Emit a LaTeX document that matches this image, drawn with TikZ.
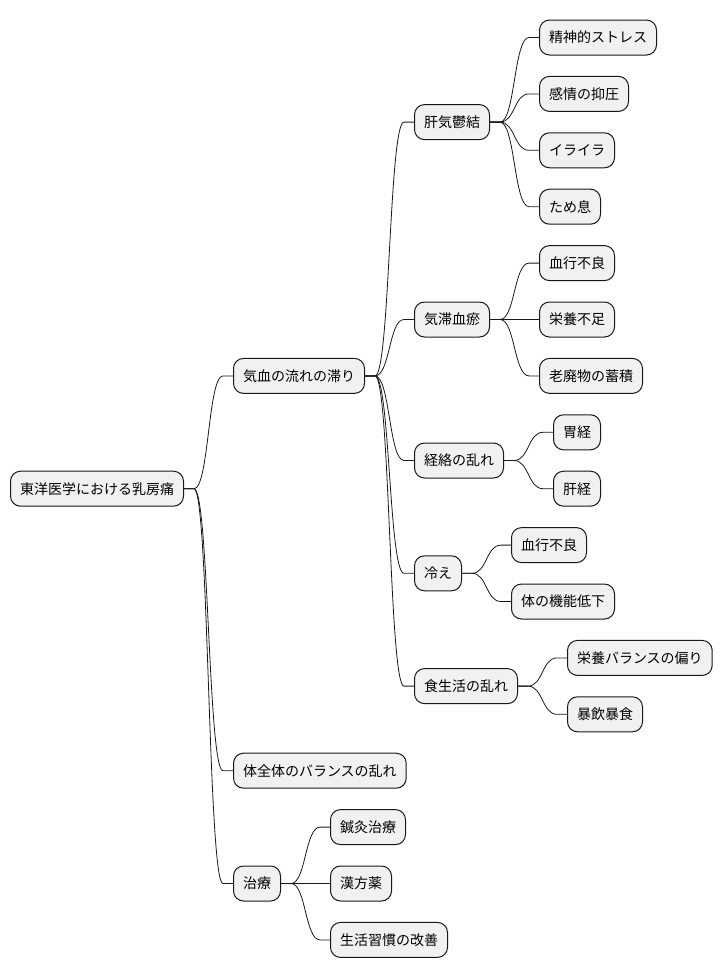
\documentclass[tikz,border=0pt]{standalone}
\usepackage{fontspec}
\newfontfamily\jpfont{Noto Sans CJK JP}
\usepackage{tikz}
\usetikzlibrary{calc}
\definecolor{topicfill}{HTML}{F1F1F1}
\definecolor{topicline}{HTML}{181818}

\begin{document}
\begin{tikzpicture}[
            x=1pt, y=-1pt,
            topic/.style={rectangle, rounded corners=10pt, draw=topicline, fill=topicfill,
                          line width=1pt, minimum height=35pt, inner xsep=9.5pt, inner ysep=0pt,
                          anchor=west, font=\jpfont\fontsize{14}{16}\selectfont},
            link/.style ={line width=0.8pt, draw=topicline,
                          to path={-- ([xshift=10pt]\tikztostart)
                                   .. controls ([xshift=25pt]\tikztostart) and ([xshift=-25pt]\tikztotarget)
                                   .. ([xshift=-10pt]\tikztotarget) -- (\tikztotarget)}}
        ]
        \useasboundingbox (0,0) rectangle (726,978);

        % root and first level
        \node[topic] (root)    at (10,488.7) {東洋医学における乳房痛};
        \node[topic] (kiketsu) at ($(root.east |- 0,375.9)+(49pt,0)$) {気血の流れの滞り};
        \node[topic] (zentai)  at ($(root.east |- 0,770.7)+(49pt,0)$) {体全体のバランスの乱れ};
        \node[topic] (chiryo)  at ($(root.east |- 0,883.5)+(49pt,0)$) {治療};

        % second level
        \node[topic] (kanki)   at ($(kiketsu.east |- 0,122.1)+(49pt,0)$) {肝気鬱結};
        \node[topic] (kitai)   at ($(kiketsu.east |- 0,319.5)+(49pt,0)$) {気滞血瘀};
        \node[topic] (keiraku) at ($(kiketsu.east |- 0,460.5)+(49pt,0)$) {経絡の乱れ};
        \node[topic] (hie)     at ($(kiketsu.east |- 0,573.3)+(49pt,0)$) {冷え};
        \node[topic] (shoku)   at ($(kiketsu.east |- 0,686.1)+(49pt,0)$) {食生活の乱れ};

        % leaves
        \node[topic] (stress)   at ($(kanki.east |- 0,37.5)+(49pt,0)$)  {精神的ストレス};
        \node[topic] (yokuatsu) at ($(kanki.east |- 0,93.9)+(49pt,0)$)  {感情の抑圧};
        \node[topic] (iraira)   at ($(kanki.east |- 0,150.3)+(49pt,0)$) {イライラ};
        \node[topic] (tameiki)  at ($(kanki.east |- 0,206.7)+(49pt,0)$) {ため息};
        \node[topic] (kekko)    at ($(kitai.east |- 0,263.1)+(49pt,0)$) {血行不良};
        \node[topic] (eiyo)     at ($(kitai.east |- 0,319.5)+(49pt,0)$) {栄養不足};
        \node[topic] (rohai)    at ($(kitai.east |- 0,375.9)+(49pt,0)$) {老廃物の蓄積};
        \node[topic] (ikei)     at ($(keiraku.east |- 0,432.3)+(49pt,0)$) {胃経};
        \node[topic] (kankei)   at ($(keiraku.east |- 0,488.7)+(49pt,0)$) {肝経};
        \node[topic] (kekkohie) at ($(hie.east |- 0,545.1)+(49pt,0)$)   {血行不良};
        \node[topic] (kino)     at ($(hie.east |- 0,601.5)+(49pt,0)$)   {体の機能低下};
        \node[topic] (henshoku) at ($(shoku.east |- 0,657.9)+(49pt,0)$) {栄養バランスの偏り};
        \node[topic] (bouin)    at ($(shoku.east |- 0,714.3)+(49pt,0)$) {暴飲暴食};
        \node[topic] (shinkyu)  at ($(chiryo.east |- 0,827.1)+(49pt,0)$) {鍼灸治療};
        \node[topic] (kampo)    at ($(chiryo.east |- 0,883.5)+(49pt,0)$) {漢方薬};
        \node[topic] (shukan)   at ($(chiryo.east |- 0,939.9)+(49pt,0)$) {生活習慣の改善};

        % branches
        \draw[link] (root.east) to (kiketsu.west);
        \draw[link] (root.east) to (zentai.west);
        \draw[link] (root.east) to (chiryo.west);
        \draw[link] (kiketsu.east) to (kanki.west);
        \draw[link] (kiketsu.east) to (kitai.west);
        \draw[link] (kiketsu.east) to (keiraku.west);
        \draw[link] (kiketsu.east) to (hie.west);
        \draw[link] (kiketsu.east) to (shoku.west);
        \draw[link] (kanki.east) to (stress.west);
        \draw[link] (kanki.east) to (yokuatsu.west);
        \draw[link] (kanki.east) to (iraira.west);
        \draw[link] (kanki.east) to (tameiki.west);
        \draw[link] (kitai.east) to (kekko.west);
        \draw[link] (kitai.east) to (eiyo.west);
        \draw[link] (kitai.east) to (rohai.west);
        \draw[link] (keiraku.east) to (ikei.west);
        \draw[link] (keiraku.east) to (kankei.west);
        \draw[link] (hie.east) to (kekkohie.west);
        \draw[link] (hie.east) to (kino.west);
        \draw[link] (shoku.east) to (henshoku.west);
        \draw[link] (shoku.east) to (bouin.west);
        \draw[link] (chiryo.east) to (shinkyu.west);
        \draw[link] (chiryo.east) to (kampo.west);
        \draw[link] (chiryo.east) to (shukan.west);
\end{tikzpicture}
\end{document}
